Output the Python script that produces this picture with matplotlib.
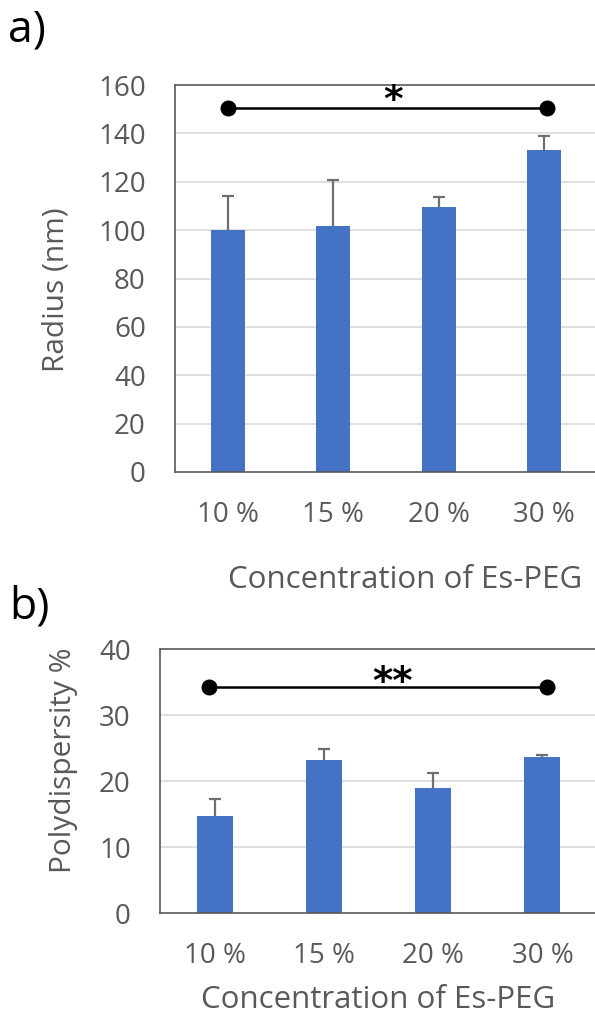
#!/usr/bin/env python3
import numpy as np
import matplotlib
matplotlib.use('Agg')
import matplotlib.pyplot as plt

plt.rcParams['font.family'] = ['Open Sans', 'DejaVu Sans']

# values
categories = ['10 %', '15 %', '20 %', '30 %']
radius = [100, 101.5, 109.7, 133.3]
radius_err = [14, 19.3, 4.2, 5.8]
pdi = [14.7, 23.2, 18.9, 23.6]
pdi_err = [2.5, 1.6, 2.3, 0.3]

radius_ticks = [0, 20, 40, 60, 80, 100, 120, 140, 160]
pdi_ticks = [0, 10, 20, 30, 40]

# significance brackets: (x start, x end, y, label)
sig_a = (0, 3.03, 150.5, '*')
sig_b = (-0.05, 3.04, 34.2, '**')

BAR = '#4472C4'
TXT = '#595959'
ERR = '#6f6f6f'
GRID = '#d9d9d9'

W, H = 595, 1017
fig = plt.figure(figsize=(W / 100, H / 100), dpi=100)


def px_axes(left, top, right, bottom):
    return fig.add_axes([left / W, 1 - bottom / H, (right - left) / W, (bottom - top) / H])


def style(ax, ticks, ylabel, bar_w, vals, errs):
    x = np.arange(len(categories))
    ax.bar(x, vals, bar_w, color=BAR, zorder=2)
    _, caps, _ = ax.errorbar(x, vals, yerr=[np.zeros(len(errs)), errs], fmt='none',
                             ecolor=ERR, elinewidth=1.6, capsize=4.5, capthick=1.6,
                             zorder=3)
    # only the upper cap is shown
    for c in caps:
        if np.allclose(c.get_ydata(), vals):
            c.set_visible(False)
    ax.set_xlim(-0.5, 3.5)
    ax.set_ylim(ticks[0], ticks[-1])
    ax.set_yticks(ticks)
    for t in ticks[1:-1]:
        ax.axhline(t, color=GRID, lw=1.2, zorder=0)
    ax.set_xticks(x)
    ax.set_xticklabels(categories)
    ax.tick_params(length=0, labelsize=20, colors=TXT)
    ax.tick_params(axis='y', pad=21)
    ax.tick_params(axis='x', pad=21)
    for s in ax.spines.values():
        s.set_color('#595959')
        s.set_linewidth(1.2)
    ax.set_ylabel(ylabel, fontsize=21.5, color=TXT, va='center')


def bracket(ax, sig, dx, dy, fs):
    x0, x1, y, lab = sig
    ax.plot([x0, x1], [y, y], color='black', lw=1.8, marker='o', ms=10.5, zorder=4,
            clip_on=False)
    ax.text((x0 + x1) / 2 + dx, y + dy, lab, ha='center', va='center', fontsize=fs,
            fontweight='bold', color='black', family='DejaVu Sans')


# panel a
ax1 = px_axes(175, 85, 597, 472)
style(ax1, radius_ticks, 'Radius (nm)', 0.32, radius, radius_err)
bracket(ax1, sig_a, 0.05, 3.0, 27)
ax1.set_xlabel('Concentration of Es-PEG', fontsize=22.5, color=TXT, va='center')
ax1.xaxis.set_label_coords((405 - 175) / 422, -(580 - 472) / 387)
ax1.yaxis.set_label_coords(-(175 - 56) / 422, 1 - (290 - 85) / 387)

# panel b
ax2 = px_axes(160, 649, 597, 913)
style(ax2, pdi_ticks, 'Polydispersity %', 0.33, pdi, pdi_err)
bracket(ax2, sig_b, 0.13, 0.6, 28)
ax2.set_xlabel('Concentration of Es-PEG', fontsize=22.5, color=TXT, va='center')
ax2.xaxis.set_label_coords(0.5, -(1000 - 913) / 264)
ax2.yaxis.set_label_coords(-(160 - 64) / 437, 1 - (760 - 649) / 264)

fig.text(27 / W, 1 - 30 / H, 'a)', fontsize=32, ha='center', va='center', color='black')
fig.text(29 / W, 1 - 607 / H, 'b)', fontsize=32, ha='center', va='center', color='black')

fig.savefig('out.png', dpi=100)
